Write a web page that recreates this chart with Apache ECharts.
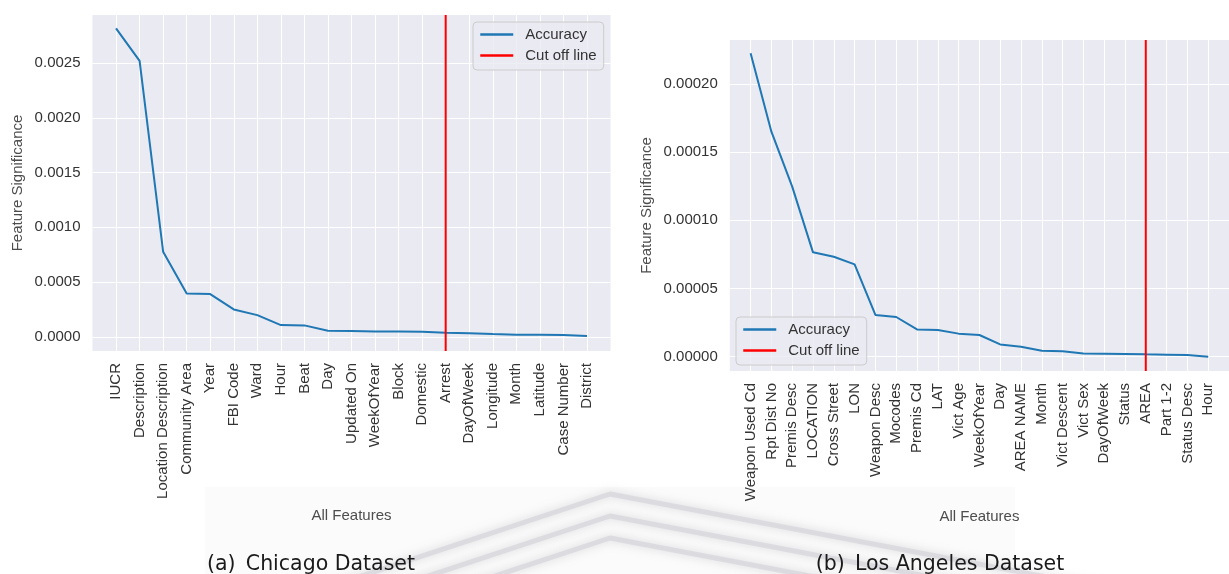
<!DOCTYPE html>
<html>
<head>
<meta charset="utf-8">
<script src="https://cdn.jsdelivr.net/npm/echarts@6/dist/echarts.min.js"></script>
<style>
  html, body { margin: 0; padding: 0; background: #ffffff; }
  #chart { width: 1229px; height: 574px; }
</style>
</head>
<body>
<div id="chart"></div>
<script>
// Chicago dataset: features ranked by significance
const chicagoFeatures = [
  'IUCR', 'Description', 'Location Description', 'Community Area', 'Year',
  'FBI Code', 'Ward', 'Hour', 'Beat', 'Day', 'Updated On', 'WeekOfYear',
  'Block', 'Domestic', 'Arrest', 'DayOfWeek', 'Longitude', 'Month',
  'Latitude', 'Case Number', 'District'
];
const chicagoValues = [
  0.002817, 0.002521, 0.000777, 0.000396, 0.000390,
  0.000250, 0.000198, 0.000107, 0.000104, 0.000055, 0.000052, 0.000049,
  0.000048, 0.000045, 0.000037, 0.000032, 0.000025, 0.000019,
  0.000018, 0.000016, 0.000007
];
const chicagoCutoff = 'Arrest';
const chicagoTicks = [0, 0.0005, 0.0010, 0.0015, 0.0020, 0.0025];
const chicagoExtent = [-0.00013, 0.00294];

// Los Angeles dataset: features ranked by significance
const laFeatures = [
  'Weapon Used Cd', 'Rpt Dist No', 'Premis Desc', 'LOCATION', 'Cross Street',
  'LON', 'Weapon Desc', 'Mocodes', 'Premis Cd', 'LAT', 'Vict Age',
  'WeekOfYear', 'Day', 'AREA NAME', 'Month', 'Vict Descent', 'Vict Sex',
  'DayOfWeek', 'Status', 'AREA', 'Part 1-2', 'Status Desc', 'Hour'
];
const laValues = [
  0.0002225, 0.0001650, 0.0001247, 0.0000765, 0.0000733,
  0.0000677, 0.0000306, 0.0000291, 0.0000200, 0.0000196, 0.0000169,
  0.0000159, 0.0000090, 0.0000073, 0.0000044, 0.0000039, 0.0000024,
  0.0000022, 0.0000020, 0.0000017, 0.0000015, 0.0000012, 0.0000000
];
const laCutoff = 'AREA';
const laTicks = [0, 0.00005, 0.00010, 0.00015, 0.00020];
const laExtent = [-0.0000105, 0.0002322];

const captions = ['(a)\u2002Chicago Dataset', '(b)\u2002Los Angeles Dataset'];

const FONT = '"Liberation Sans", Arial, sans-serif';
const TICK_COLOR = '#333333';
const NAME_COLOR = '#4d4d4d';
const LINE_BLUE = '#1f77b4';
const CUT_RED = '#ff0000';

const panels = [
  { features: chicagoFeatures, values: chicagoValues, cutoff: chicagoCutoff,
    ticks: chicagoTicks, extent: chicagoExtent, decimals: 4,
    grid: { left: 92.5, top: 15, width: 518, height: 336 },
    xNameGap: 157, yNameGap: 67,
    legend: { left: 473, top: 22 } },
  { features: laFeatures, values: laValues, cutoff: laCutoff,
    ticks: laTicks, extent: laExtent, decimals: 5,
    grid: { left: 729.8, top: 40, width: 508.8, height: 331 },
    xNameGap: 137, yNameGap: 75,
    legend: { left: 736, top: 317 } }
];

const grids = [], xAxes = [], yAxes = [], series = [], legends = [];

panels.forEach((p, g) => {
  const idx = p.features.map((_, i) => i);
  grids.push(Object.assign({
    show: true, backgroundColor: '#eaeaf2', borderWidth: 0
  }, p.grid));

  xAxes.push({
    type: 'value', gridIndex: g, min: -1, max: p.features.length,
    axisLine: { show: false },
    axisTick: { show: false, customValues: idx },
    axisLabel: {
      customValues: idx, rotate: 90, margin: 12,
      fontSize: 15, fontFamily: FONT, color: TICK_COLOR,
      formatter: v => p.features[Math.round(v)]
    },
    splitLine: { show: true, lineStyle: { color: '#ffffff', width: 1 } },
    name: 'All Features', nameLocation: 'middle', nameGap: p.xNameGap,
    nameTextStyle: { fontSize: 15, fontFamily: FONT, color: NAME_COLOR }
  });

  yAxes.push({
    type: 'value', gridIndex: g, min: p.extent[0], max: p.extent[1],
    axisLine: { show: false },
    axisTick: { show: false, customValues: p.ticks },
    axisLabel: {
      customValues: p.ticks, margin: 12,
      fontSize: 15, fontFamily: FONT, color: TICK_COLOR,
      formatter: v => Number(v).toFixed(p.decimals)
    },
    splitLine: { show: true, lineStyle: { color: '#ffffff', width: 1.2 } },
    name: 'Feature Significance', nameLocation: 'middle', nameRotate: 90,
    nameGap: p.yNameGap,
    nameTextStyle: { fontSize: 15, fontFamily: FONT, color: NAME_COLOR }
  });

  series.push({
    type: 'line', name: 'Accuracy', xAxisIndex: g, yAxisIndex: g,
    data: p.values.map((v, i) => [i, v]),
    symbol: 'none', silent: true, z: 3,
    lineStyle: { color: LINE_BLUE, width: 2 },
    itemStyle: { color: LINE_BLUE }
  });

  const ci = p.features.indexOf(p.cutoff);
  series.push({
    type: 'line', name: 'Cut off line', xAxisIndex: g, yAxisIndex: g,
    data: [[ci, p.extent[0]], [ci, p.extent[1]]],
    symbol: 'none', silent: true, z: 4,
    lineStyle: { color: CUT_RED, width: 2 },
    itemStyle: { color: CUT_RED }
  });

  legends.push({
    left: p.legend.left, top: p.legend.top, orient: 'vertical',
    data: ['Accuracy', 'Cut off line'],
    itemWidth: 33, itemHeight: 14, itemGap: 6,
    padding: [5, 7, 7, 6],
    selectedMode: false,
    itemStyle: { opacity: 0 },
    lineStyle: { width: 2.5 },
    textStyle: { fontSize: 15, fontFamily: FONT, color: TICK_COLOR, padding: [0, 0, 0, 7] },
    backgroundColor: 'rgba(234,234,242,0.8)',
    borderColor: '#cccccc', borderWidth: 1, borderRadius: 4
  });
});

// faint chevron watermark behind the captions
const watermark = [];
watermark.push({
  type: 'rect', z: -10, silent: true,
  shape: { x: 205, y: 487, width: 810, height: 87 },
  style: { fill: '#fbfbfb' }
});
[0, 22, 44].forEach(dy => {
  const apexX = 610, apexY = 494 + dy;
  const pts = [
    [apexX - 420, apexY + 0.33 * 420],
    [apexX, apexY],
    [apexX + 520, apexY + 0.19 * 520]
  ];
  watermark.push({
    type: 'polyline', z: -9, silent: true,
    shape: { points: pts, smooth: 0 },
    style: {
      stroke: 'rgba(205,205,212,0.55)', lineWidth: 5, fill: null, lineJoin: 'round',
      shadowBlur: 10, shadowColor: 'rgba(185,185,195,1)'
    }
  });
});

const captionText = [
  { x: 311, text: captions[0] },
  { x: 940, text: captions[1] }
].map(c => ({
  type: 'text', z: 10, silent: true, x: c.x, y: 565,
  style: {
    text: c.text, fill: '#1a1a1a',
    font: '20.5px "DejaVu Sans", sans-serif',
    textAlign: 'center', textVerticalAlign: 'middle'
  }
}));

const chart = echarts.init(document.getElementById('chart'), null, { renderer: 'canvas' });
chart.setOption({
  animation: false,
  backgroundColor: '#ffffff',
  grid: grids,
  xAxis: xAxes,
  yAxis: yAxes,
  legend: legends,
  series: series,
  graphic: { elements: watermark.concat(captionText) }
});
</script>
</body>
</html>
